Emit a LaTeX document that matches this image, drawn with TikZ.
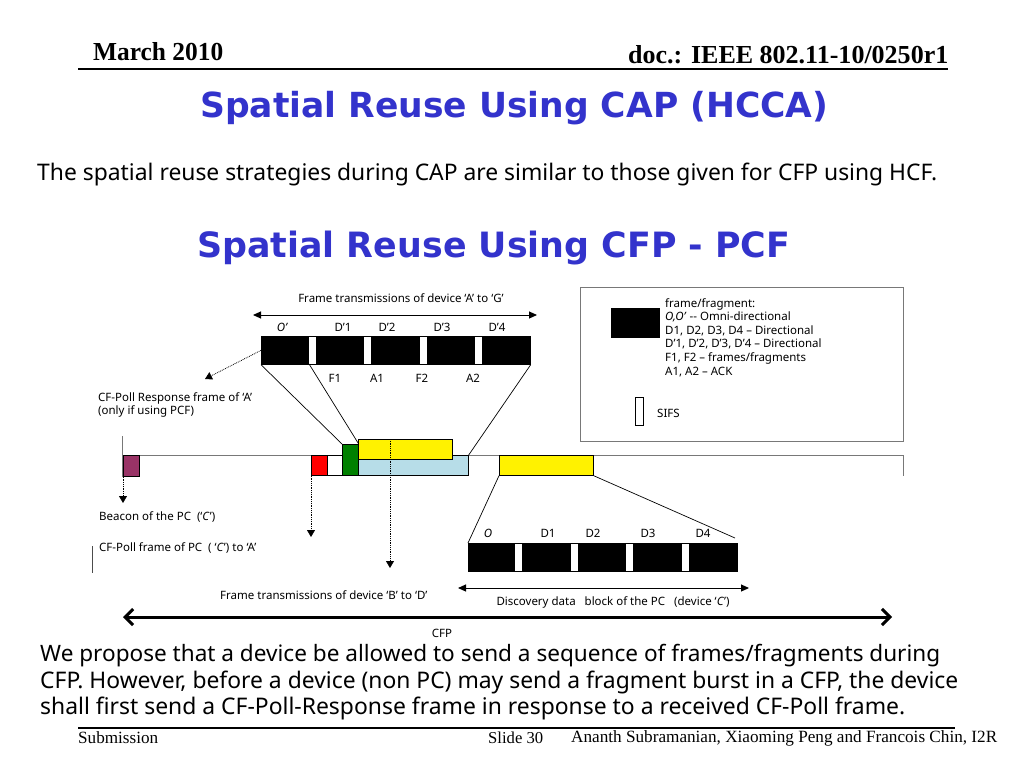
\documentclass[tikz,border=0pt]{standalone}
\usepackage{fontspec}
\setmainfont{Liberation Serif}
\newfontfamily\comic{Noto Sans}
\newfontfamily\ttlfont{DejaVu Sans}
\usetikzlibrary{arrows.meta}
\definecolor{ttl}{RGB}{51,51,204}
\definecolor{purp}{RGB}{153,51,102}
\definecolor{lblue}{RGB}{183,221,232}
\definecolor{dgreen}{RGB}{0,128,0}
\definecolor{lgray}{RGB}{120,120,120}
\newcommand{\fitw}[2]{\resizebox{#1}{!}{#2}}
\begin{document}
\begin{tikzpicture}[x=1pt,y=-1pt,
  lbl/.style={font=\comic\fontsize{11.5}{13.6}\selectfont, inner sep=0},
  blk/.style={draw=black, line width=0.7pt, inner sep=0, anchor=north west},
  gapbox/.style={fill=white, draw=none, inner sep=0, anchor=north west, minimum width=7pt, minimum height=27pt},
  dotarrow/.style={densely dotted, line width=0.8pt, -{Triangle[length=7pt,width=8pt]}},
  dblarrow/.style={line width=1pt, {Triangle[length=8pt,width=7pt]}-{Triangle[length=8pt,width=7pt]}},
  zoomline/.style={line width=0.7pt, black},
  tline/.style={line width=1pt, lgray}
]
\useasboundingbox[fill=white] (0,0) rectangle (1024,768);

% header
\node[anchor=base west, inner sep=0] (hdate) at (93,61) {\resizebox{130pt}{18pt}{\bfseries March 2010}};
\node[anchor=base west, inner sep=0] (hdoc) at (628,64) {\resizebox{320pt}{18pt}{\bfseries doc.: IEEE 802.11-10/0250r1}};
\coordinate (hl0) at (78,69); \coordinate (hl1) at (948,69);
\draw[line width=2pt] (hl0) -- (hl1);

% titles
\node[anchor=base west, inner sep=0, text=ttl] (t1) at (200,117) {\resizebox{628pt}{!}{\ttlfont\bfseries\fontsize{40}{44}\selectfont Spatial Reuse Using CAP (HCCA)}};
\node[anchor=west, inner sep=0] (sub) at (37,174) {\fitw{900pt}{\comic\fontsize{20}{24}\selectfont The spatial reuse strategies during CAP are similar to those given for CFP using HCF.}};
\node[anchor=base west, inner sep=0, text=ttl] (t2) at (197,257) {\resizebox{593pt}{!}{\ttlfont\bfseries\fontsize{40}{44}\selectfont Spatial Reuse Using CFP - PCF}};

% top frame block
\node[lbl] (lblA) at (401,298) {Frame transmissions of device ‘A’ to ‘G’};
\coordinate (a1l) at (253,315); \coordinate (a1r) at (537,315);
\draw[dblarrow] (a1l) -- (a1r);
\node[lbl] at (282,327) {\itshape O’};
\node[lbl] at (343,327) {D’1};
\node[lbl] at (387,327) {D’2};
\node[lbl] at (442,327) {D’3};
\node[lbl] at (497,327) {D’4};
\node[blk, fill=black, minimum width=269pt, minimum height=28pt] (bar1) at (261,336) {};
\node[gapbox] (g1) at (309,336.5) {};
\node[gapbox] (g2) at (364,336.5) {};
\node[gapbox] (g3) at (420,336.5) {};
\node[gapbox] (g4) at (475,336.5) {};
\node[lbl] at (335,378) {F1};
\node[lbl] at (377,378) {A1};
\node[lbl] at (422,378) {F2};
\node[lbl] at (473,378) {A2};

\node[lbl, anchor=west] (cfr1) at (98,398) {CF-Poll Response frame of ‘A’};
\node[lbl, anchor=west] (cfr2) at (98,411) {(only if using PCF)};

% legend
\node[draw=lgray, line width=0.8pt, inner sep=0, anchor=north west, minimum width=323pt, minimum height=154pt] (leg) at (580,287) {};
\node[blk, fill=black, minimum width=48pt, minimum height=29pt] (legblk) at (611,308) {};
\node[lbl, anchor=north west, align=left] (legtxt) at (665,298) {frame/fragment:\\ \textit{O,O’} -- Omni-directional\\ D1, D2, D3, D4 – Directional\\ D’1, D’2, D’3, D’4 – Directional\\ F1, F2 – frames/fragments\\ A1, A2 – ACK};
\node[blk, minimum width=8pt, minimum height=28pt] (sifs) at (635,397) {};
\node[lbl, anchor=west] (sifst) at (657,413) {SIFS};

% timeline
\coordinate (tl0) at (122,455); \coordinate (tl1) at (903,455);
\coordinate (tv0) at (122,436); \coordinate (tv1) at (122,477);
\coordinate (te0) at (903,455); \coordinate (te1) at (903,476);
\draw[tline] (tl0) -- (tl1);
\draw[tline] (tv0) -- (tv1);
\draw[tline] (te0) -- (te1);

\node[blk, fill=purp, minimum width=16pt, minimum height=21pt] (purp) at (123,455) {};
\node[blk, fill=red, minimum width=16pt, minimum height=20pt] (red) at (311,455) {};
\node[blk, minimum width=15pt, minimum height=20pt] (wbox) at (327,455) {};
\node[blk, fill=lblue, minimum width=110pt, minimum height=20pt] (lb) at (358,455) {};
\node[blk, fill=dgreen, minimum width=16pt, minimum height=31pt] (grn) at (342,444) {};
\node[blk, fill=yellow, minimum width=94pt, minimum height=20pt] (y1) at (358,439) {};
\node[blk, fill=yellow, minimum width=94pt, minimum height=20pt] (y2) at (499,455) {};

% zoom lines top
\draw[zoomline] (bar1.south west) -- (grn.north west);
\draw[zoomline] (g1.south west) -- (grn.north east);
\draw[zoomline] (bar1.south east) -- (lb.north east);

% dotted arrows
\coordinate (cfrA) at (205,379);
\draw[dotarrow] (bar1.west) -- (cfrA);
\coordinate (pa) at (123,503);
\draw[dotarrow] (purp.south west) -- (pa);
\coordinate (ra) at (311,537);
\draw[dotarrow] (red.south west) -- (ra);
\coordinate (ya0) at (390,439); \coordinate (ya1) at (390,568);
\draw[dotarrow] (ya0) -- (ya1);

% bottom block
\node[lbl] at (488,533) {\itshape O};
\node[lbl] at (548,533) {D1};
\node[lbl] at (593,533) {D2};
\node[lbl] at (648,533) {D3};
\node[lbl] at (703,533) {D4};
\node[blk, fill=black, minimum width=269pt, minimum height=28pt] (bar2) at (468,543) {};
\node[gapbox] (h1) at (515,543.5) {};
\node[gapbox] (h2) at (571,543.5) {};
\node[gapbox] (h3) at (626,543.5) {};
\node[gapbox] (h4) at (682,543.5) {};
\coordinate (b2r) at (735,538);
\draw[zoomline] (y2.south west) -- (bar2.north west);
\draw[zoomline] (y2.south east) -- (b2r);

\coordinate (a2l) at (458,588); \coordinate (a2r) at (749,588);
\draw[dblarrow] (a2l) -- (a2r);
\node[lbl] (disc) at (613,602) {Discovery data\ \ \ block of the PC\ \ \ (device ‘\textit{C}’)};

\node[lbl, anchor=west] (beacon) at (99,517) {Beacon of the PC\ \ (‘\textit{C}’)};
\node[lbl, anchor=west] (cfp) at (99,548) {CF-Poll frame of PC\ \ ( ‘\textit{C}’) to ‘A’};
\coordinate (vb0) at (92,546); \coordinate (vb1) at (92,573);
\draw[line width=0.7pt, black!70] (vb0) -- (vb1);
\node[lbl, anchor=west] (ftB) at (220,595) {Frame transmissions of device ‘B’ to ‘D’};

\coordinate (cfl) at (123,617); \coordinate (cfr) at (892,617);
\draw[line width=3pt, {Straight Barb[length=8pt,width=16pt]}-{Straight Barb[length=8pt,width=16pt]}] (cfl) -- (cfr);
\node[lbl] (cfpt) at (442,633) {CFP};

% bottom paragraph
\node[anchor=west, inner sep=0] (p1) at (40,656) {\fitw{900pt}{\comic\fontsize{20}{24}\selectfont We propose that a device be allowed to send a sequence of frames/fragments during}};
\node[anchor=west, inner sep=0] (p2) at (40,682) {\fitw{918pt}{\comic\fontsize{20}{24}\selectfont CFP. However, before a device (non PC) may send a fragment burst in a CFP, the device}};
\node[anchor=west, inner sep=0] (p3) at (40,708) {\fitw{865pt}{\comic\fontsize{20}{24}\selectfont shall first send a CF-Poll-Response frame in response to a received CF-Poll frame.}};

% footer
\coordinate (fl0) at (78,728); \coordinate (fl1) at (955,728);
\draw[line width=1.5pt] (fl0) -- (fl1);
\node[anchor=west, inner sep=0] (fsub) at (78,738) {\fitw{80pt}{\fontsize{14}{16}\selectfont Submission}};
\node[anchor=west, inner sep=0] (fslide) at (488,738) {\fitw{55pt}{\fontsize{14}{16}\selectfont Slide 30}};
\node[anchor=west, inner sep=0] (fauth) at (571,738) {\fitw{426pt}{\fontsize{14}{16}\selectfont Ananth Subramanian, Xiaoming Peng and Francois Chin, I2R}};
\end{tikzpicture}
\end{document}
